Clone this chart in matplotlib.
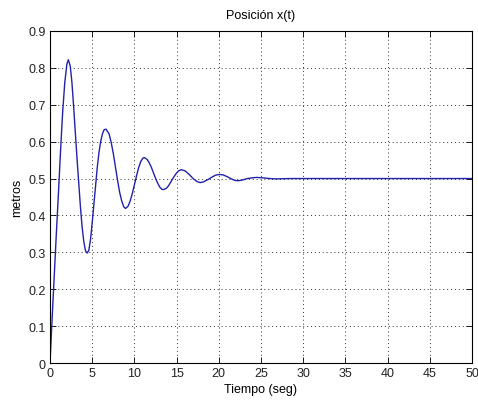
import matplotlib
matplotlib.use("Agg")
import matplotlib.pyplot as plt

# posicion x(t)
t = [0, 0.25, 0.5, 0.75, 1.0, 1.25, 1.5, 1.75, 2.0, 2.17,
     2.4, 2.6, 2.8, 3.0, 3.2, 3.4, 3.6, 3.8, 4.0, 4.2, 4.4,
     4.6, 4.8, 5.0, 5.2, 5.4, 5.6, 5.8, 6.0, 6.2, 6.4, 6.63,
     7.0, 7.25, 7.5, 7.75, 8.0, 8.25, 8.5, 8.75, 8.95,
     9.25, 9.5, 9.75, 10.0, 10.25, 10.5, 10.75, 11.0, 11.16,
     11.5, 11.75, 12.0, 12.25, 12.5, 12.75, 13.0, 13.25, 13.42,
     13.75, 14.0, 14.25, 14.5, 14.75, 15.0, 15.25, 15.55,
     16.0, 16.5, 17.0, 17.4, 17.8,
     18.2, 18.7, 19.2, 19.6, 20.05,
     20.5, 21.0, 21.5, 21.9, 22.3,
     22.8, 23.4, 24.0, 24.5, 25.2, 26.0, 26.8, 27.5, 28.5,
     30, 35, 40, 45, 50]
x = [0, 0.12, 0.235, 0.35, 0.46, 0.575, 0.68, 0.76, 0.81, 0.822,
     0.805, 0.76, 0.695, 0.625, 0.555, 0.49, 0.425, 0.37, 0.33, 0.305, 0.298,
     0.305, 0.335, 0.38, 0.43, 0.48, 0.53, 0.57, 0.60, 0.62, 0.632, 0.634,
     0.621, 0.598, 0.568, 0.532, 0.496, 0.463, 0.439, 0.423, 0.419,
     0.425, 0.439, 0.459, 0.483, 0.507, 0.529, 0.546, 0.555, 0.557,
     0.552, 0.543, 0.531, 0.516, 0.501, 0.488, 0.477, 0.471, 0.470,
     0.473, 0.479, 0.488, 0.498, 0.507, 0.515, 0.521, 0.524,
     0.521, 0.511, 0.499, 0.492, 0.489,
     0.491, 0.497, 0.504, 0.509, 0.511,
     0.510, 0.505, 0.499, 0.495, 0.494,
     0.496, 0.500, 0.502, 0.503, 0.502, 0.500, 0.499, 0.4995, 0.5,
     0.5, 0.5, 0.5, 0.5, 0.5]

xticks = [0, 5, 10, 15, 20, 25, 30, 35, 40, 45, 50]
yticks = [0, 0.1, 0.2, 0.3, 0.4, 0.5, 0.6, 0.7, 0.8, 0.9]
ylabels = ['0', '0.1', '0.2', '0.3', '0.4', '0.5', '0.6', '0.7', '0.8', '0.9']

plt.rcParams['font.family'] = ['Liberation Sans', 'DejaVu Sans']
plt.rcParams['font.size'] = 9

fig = plt.figure(figsize=(4.78, 4.02), dpi=100)
ax = fig.add_axes([0.1046, 0.0945, 0.8828, 0.826])
ax.plot(t, x, color='#2222aa', linewidth=1.0)
ax.set_xlim(0, 50)
ax.set_ylim(0, 0.9)
ax.set_xticks(xticks)
ax.set_xticklabels([str(v) for v in xticks])
ax.set_yticks(yticks)
ax.set_yticklabels(ylabels)
ax.grid(True, color='#303030', linestyle=(0, (1, 3)), linewidth=0.7)
ax.tick_params(direction='in', top=True, right=True, length=4, width=0.6,
               labelsize=9, pad=3, labelcolor='#222222')
for s in ax.spines.values():
    s.set_linewidth(0.8)
ax.set_title('Posición x(t)', fontsize=9, pad=9)
ax.set_xlabel('Tiempo (seg)', fontsize=9, labelpad=3)
ax.set_ylabel('metros', fontsize=9, labelpad=4)

fig.savefig('out.png', dpi=100)
